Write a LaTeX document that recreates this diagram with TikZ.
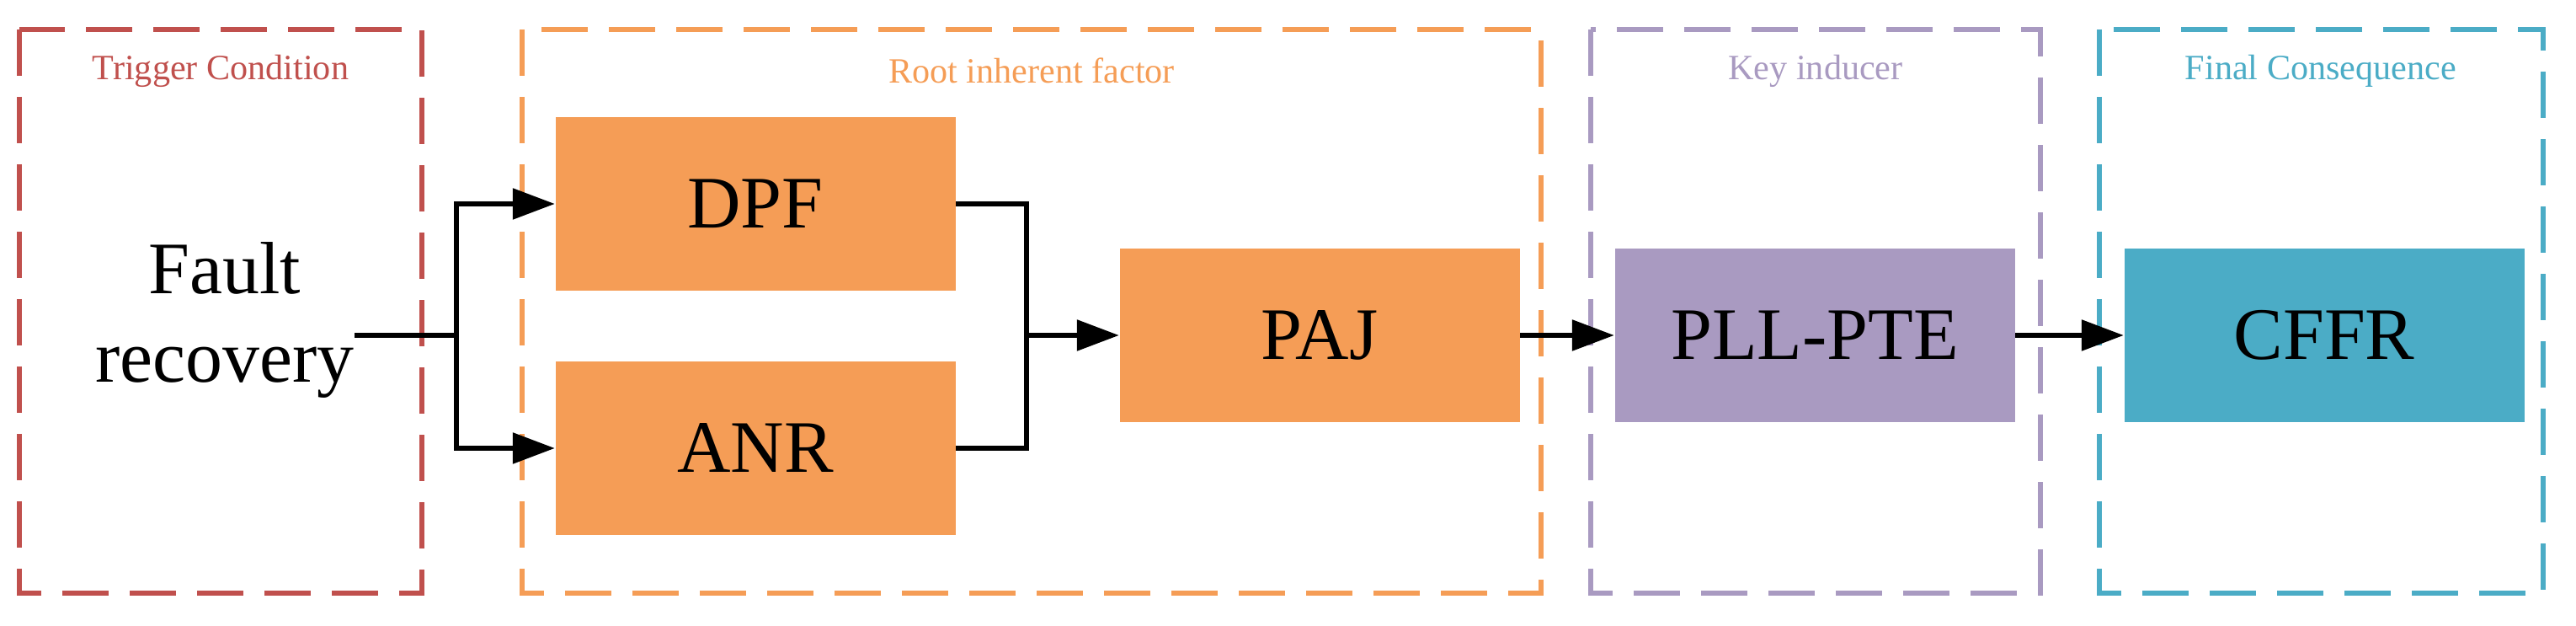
\documentclass[tikz,border=0pt]{standalone}
\usepackage{fontspec}
\setmainfont{Liberation Serif}
\usetikzlibrary{positioning,arrows.meta,calc}
\definecolor{trigred}{HTML}{C0504D}
\definecolor{rootorange}{HTML}{F59D56}
\definecolor{keypurple}{HTML}{A99AC1}
\definecolor{finalteal}{HTML}{4BACC6}
\tikzset{
    group/.style={draw=#1, line width=1.6pt, dash pattern=on 0.55cm off 0.25cm},
    title/.style={text=#1, font=\fontsize{12}{12}\selectfont, anchor=center},
    block/.style={fill=#1, minimum width=4.75cm, minimum height=2.06cm, font=\fontsize{25}{25}\selectfont, inner sep=0pt},
    flow/.style={line width=1.6pt, -{Triangle[length=0.5cm,width=0.36cm]}},
    wire/.style={line width=1.6pt}
}
\begin{document}
\begin{tikzpicture}
    \useasboundingbox (0,0) rectangle (30.59,-7.43);
    % group frames
    \draw [group=trigred] (0.23,-0.35) rectangle (5.01,-7.04);
    \draw [group=rootorange] (6.20,-0.35) rectangle (18.30,-7.04);
    \draw [group=keypurple] (18.89,-0.35) rectangle (24.23,-7.04);
    \draw [group=finalteal] (24.93,-0.35) rectangle (30.20,-7.04);
    \node (tc) at (2.62,-0.84) [title=trigred] {Trigger Condition};
    \node (ri) at (12.25,-0.84) [title=rootorange] {Root inherent factor};
    \node (ki) at (21.56,-0.84) [title=keypurple] {Key inducer};
    \node (fc) at (27.56,-0.84) [title=finalteal] {Final Consequence};

    % blocks
    \node (fr) at (2.67,-3.80) [align=center, font=\fontsize{25}{30}\selectfont, inner sep=0pt] {Fault\\recovery};
    \node (dpf) at (8.97,-2.42) [block=rootorange] {DPF};
    \node (anr) at (8.97,-5.32) [block=rootorange] {ANR};
    \node (paj) at (15.67,-3.98) [block=rootorange] {PAJ};
    \node (pll) at (21.55,-3.98) [block=keypurple] {PLL-PTE};
    \node (cffr) at (27.60,-3.98) [block=finalteal] {CFFR};

    \coordinate (split) at (5.42,-3.98);
    \coordinate (merge) at (12.19,-3.98);

    \draw [wire] (fr.east |- split) -- (split);
    \draw [flow] (split) |- (dpf.west);
    \draw [flow] (split) |- (anr.west);
    \draw [wire] (dpf.east) -| (merge) |- (anr.east);
    \draw [flow] (merge) -- (paj);
    \draw [flow] (paj) -- (pll);
    \draw [flow] (pll) -- (cffr);
\end{tikzpicture}
\end{document}
